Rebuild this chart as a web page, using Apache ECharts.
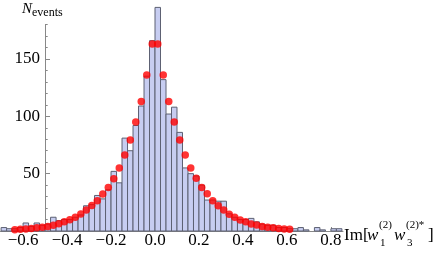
<!DOCTYPE html>
<html><head><meta charset="utf-8">
<script src="https://cdn.jsdelivr.net/npm/echarts@6/dist/echarts.min.js"></script>
<style>html,body{margin:0;padding:0;background:#fff}#c{width:436px;height:253px}</style>
</head><body><div id="c"></div>
<script>
// Histogram bins: start and width, counts per bin
const binStart = -0.7;
const binWidth = 0.025;
const counts = [3,2,2,3,7,4,7,5,6,12,9,10,10,12,14,22,23,31,28,36,52,42,81,70,92,109,135,166,
                195,132,102,108,86,55,50,48,40,27,27,26,26,15,12,10,10,11,8,6,5,5,3,3,2,2,3,1,0,3,1,0,2,2];
// Fitted curve points (bin centres from -0.6375 to 0.6125)
const fitX = [-0.6375,-0.6125,-0.5875,-0.5625,-0.5375,-0.5125,-0.4875,-0.4625,-0.4375,-0.4125,-0.3875,-0.3625,
              -0.3375,-0.3125,-0.2875,-0.2625,-0.2375,-0.2125,-0.1875,-0.1625,-0.1375,-0.1125,-0.0875,-0.0625,-0.0375,-0.0125,
              0.0125,0.0375,0.0625,0.0875,0.1125,0.1375,0.1625,0.1875,0.2125,0.2375,0.2625,0.2875,0.3125,0.3375,0.3625,0.3875,
              0.4125,0.4375,0.4625,0.4875,0.5125,0.5375,0.5625,0.5875,0.6125];
const fitY = [1.0,1.5,1.8,2.2,2.8,3.3,4.0,5.1,6.4,8.1,9.8,12.0,14.8,18.3,22.2,26.4,32.2,38.0,45.6,55.0,66.3,79.4,95.0,113.0,136.0,163.0,
              163.0,136.0,113.0,95.0,79.4,66.3,55.0,46.0,38.0,32.5,26.3,22.0,18.3,14.5,12.0,9.6,8.1,6.2,5.2,3.9,3.2,2.9,2.1,1.8,1.5];
const xTickLabels = [-0.6,-0.4,-0.2,0.0,0.2,0.4,0.6,0.8];
const yTickLabels = [50,100,150];

const histData = counts.map((c,i)=>[binStart+i*binWidth, binStart+(i+1)*binWidth, c]);
const fitData = fitX.map((x,i)=>[x, fitY[i]]);

const serif = '"Liberation Serif","DejaVu Serif",serif';
const chart = echarts.init(document.getElementById('c'), null, {renderer:'canvas'});
const fmt = v => (v<0?'\u2212':'') + Math.abs(v).toFixed(1);
chart.setOption({
  animation:false,
  grid:{left:0, right:93, top:24.6, bottom:22, containLabel:false},
  xAxis:{type:'value', min:-0.705, max:0.855,
    axisLine:{onZero:false, lineStyle:{color:'#888', width:1}},
    axisTick:{show:true, inside:true, length:4, customValues:xTickLabels, lineStyle:{color:'#888'}},
    minorTick:{show:false},
    axisLabel:{customValues:xTickLabels, formatter:fmt, color:'#000', fontFamily:serif, fontSize:17, margin:1},
    splitLine:{show:false}},
  yAxis:[
    {type:'value', min:0, max:180, interval:10, position:'left', offset:-45,
     axisLine:{show:true, onZero:false, lineStyle:{color:'#888', width:1}},
     axisTick:{show:true, inside:true, length:2.7, lineStyle:{color:'#888'}},
     axisLabel:{show:false}, splitLine:{show:false}},
    {type:'value', min:0, max:180, position:'left', offset:-45,
     axisLine:{show:false, onZero:false},
     axisTick:{show:true, inside:true, length:5, customValues:yTickLabels, lineStyle:{color:'#888'}},
     axisLabel:{customValues:yTickLabels, color:'#000', fontFamily:serif, fontSize:17, margin:5},
     splitLine:{show:false}}
  ],
  series:[
    {type:'custom', clip:false, data:histData, encode:{x:[0,1], y:2}, z:2,
     renderItem:function(params, api){
       const h = api.value(2);
       if (!h) return null;
       const p0 = api.coord([api.value(0), h]);
       const p1 = api.coord([api.value(1), 0]);
       return {type:'rect', shape:{x:p0[0], y:p0[1], width:p1[0]-p0[0], height:p1[1]-p0[1]},
               style:{fill:'#c7cdf1', stroke:'#5d6173', lineWidth:1, opacity:1}};
     }},
    {type:'scatter', data:fitData, symbol:'circle', symbolSize:7.5, itemStyle:{color:'#ff0000'}, z:3, clip:false}
  ],
  graphic:[
    {type:'text', x:22, y:9, style:{text:'N', font:'italic 15px '+serif, fill:'#000', verticalAlign:'middle', align:'left'}},
    {type:'text', x:32, y:12.5, style:{text:'events', font:'12px '+serif, fill:'#000', verticalAlign:'middle', align:'left'}},
    {type:'text', x:344, y:236, style:{text:'Im[', font:'17px '+serif, fill:'#000', verticalAlign:'middle', align:'left'}},
    {type:'text', x:367, y:236, style:{text:'w', font:'italic 17px '+serif, fill:'#000', verticalAlign:'middle', align:'left'}},
    {type:'text', x:379, y:225, style:{text:'(2)', font:'11px '+serif, fill:'#000', verticalAlign:'middle', align:'left'}},
    {type:'text', x:380, y:243, style:{text:'1', font:'11px '+serif, fill:'#000', verticalAlign:'middle', align:'left'}},
    {type:'text', x:394, y:236, style:{text:'w', font:'italic 17px '+serif, fill:'#000', verticalAlign:'middle', align:'left'}},
    {type:'text', x:406, y:225, style:{text:'(2)*', font:'11px '+serif, fill:'#000', verticalAlign:'middle', align:'left'}},
    {type:'text', x:407, y:243, style:{text:'3', font:'11px '+serif, fill:'#000', verticalAlign:'middle', align:'left'}},
    {type:'text', x:428, y:236, style:{text:']', font:'17px '+serif, fill:'#000', verticalAlign:'middle', align:'left'}}
  ]
});
</script></body></html>
